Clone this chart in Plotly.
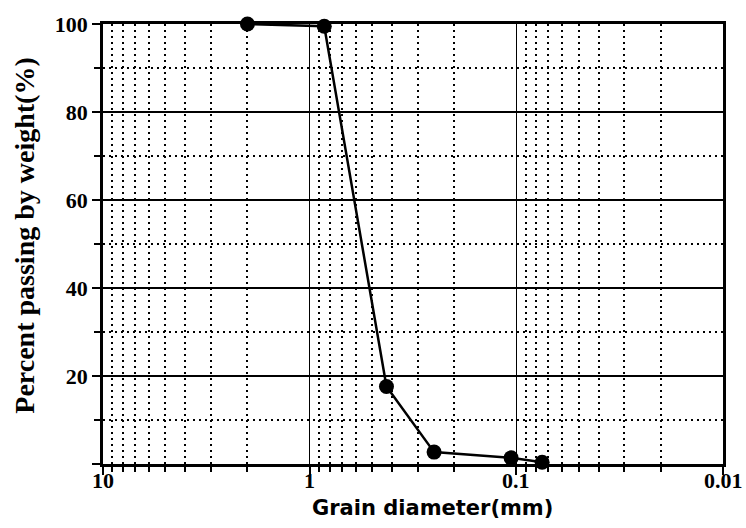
import math
import plotly.graph_objects as go

# ---- data ----
grain_diameter_mm = [2.0, 0.85, 0.425, 0.25, 0.106, 0.075]
percent_passing = [100.0, 99.5, 17.6, 2.7, 1.4, 0.4]

x_tick_vals = [10, 1, 0.1, 0.01]
x_tick_text = ["10", "1", "0.1", "0.01"]
y_tick_vals = [0, 20, 40, 60, 80, 100]
y_tick_text = ["", "20", "40", "60", "80", "100"]
y_minor_vals = [10, 30, 50, 70, 90]
x_minor_vals = [m * d for d in (1, 0.1, 0.01) for m in range(2, 10)]

x_title = "Grain diameter(mm)"
y_title = "Percent passing by weight(%)"

serif = "Liberation Serif"
sans = "DejaVu Sans"

fig = go.Figure()
fig.add_trace(go.Scatter(
    x=grain_diameter_mm, y=percent_passing,
    mode="lines+markers",
    line=dict(color="black", width=2.5),
    marker=dict(color="black", size=15),
    cliponaxis=False,
    showlegend=False,
))

# x tick labels placed on the axis' own (log) scale
tick_annots = [
    dict(text=t, x=math.log10(v), xref="x", y=0, yref="paper",
         yshift=-16, xanchor="center", yanchor="middle", showarrow=False,
         font=dict(family=serif, size=22, color="black", weight="bold"))
    for v, t in zip(x_tick_vals, x_tick_text)
]

fig.update_layout(
    width=746, height=528,
    margin=dict(l=103, r=23, t=22, b=64),
    paper_bgcolor="white", plot_bgcolor="white",
    xaxis=dict(
        type="log", range=[1, -2],
        tickmode="array", tickvals=x_tick_vals, showticklabels=False,
        ticks="outside", ticklen=8, tickwidth=2, tickcolor="black",
        showline=True, mirror=True, linewidth=2.5, linecolor="black",
        showgrid=True, gridcolor="black", gridwidth=1.2,
        zeroline=False,
        minor=dict(tickmode="array", tickvals=x_minor_vals,
                   ticks="outside", ticklen=5, tickwidth=1.5, tickcolor="black",
                   showgrid=True, gridcolor="black", gridwidth=2,
                   griddash="2px,4px"),
    ),
    yaxis=dict(
        range=[0, 100],
        tickmode="array", tickvals=y_tick_vals, ticktext=y_tick_text,
        tickfont=dict(family=serif, size=22, color="black", weight="bold"),
        ticks="outside", ticklen=8, tickwidth=2, tickcolor="black",
        showline=True, mirror=True, linewidth=2.5, linecolor="black",
        showgrid=True, gridcolor="black", gridwidth=2,
        zeroline=False,
        minor=dict(tickmode="array", tickvals=y_minor_vals,
                   ticks="outside", ticklen=6, tickwidth=1.5, tickcolor="black",
                   showgrid=True, gridcolor="black", gridwidth=2,
                   griddash="2px,4px"),
    ),
    annotations=tick_annots + [
        dict(text=x_title, xref="paper", yref="paper", x=0.532, y=-0.1,
             xanchor="center", yanchor="middle", showarrow=False,
             font=dict(family=sans, size=21, color="black", weight="bold")),
        dict(text=y_title, xref="paper", yref="paper", x=-0.128, y=0.518,
             xanchor="center", yanchor="middle", showarrow=False, textangle=-90,
             font=dict(family=serif, size=28, color="black", weight="bold")),
    ],
)

fig.write_html("out.html")
